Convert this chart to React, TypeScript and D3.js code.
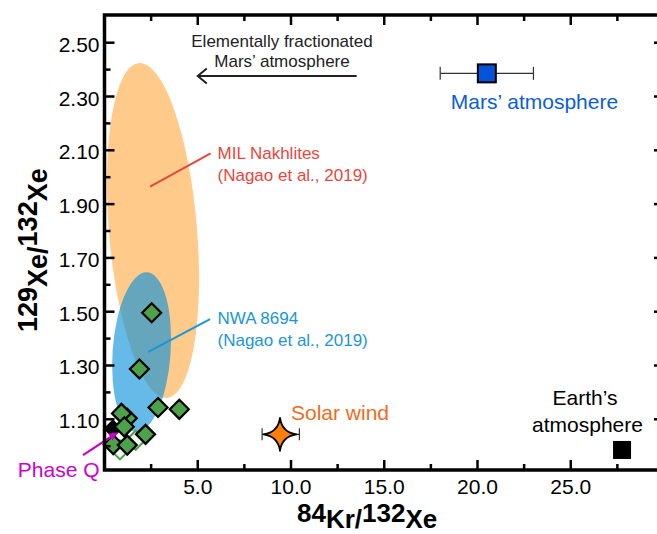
import React from 'react';
import * as d3 from 'd3';

const W = 657;
const H = 534;

// Axis ticks
const xTicksMajor = [5, 10, 15, 20, 25];
const xTickLabels = ['5.0', '10.0', '15.0', '20.0', '25.0'];
const xTicksMinor = [2.5, 7.5, 12.5, 17.5, 22.5, 27.5];
const yTicksMajor = [1.1, 1.3, 1.5, 1.7, 1.9, 2.1, 2.3, 2.5];
const yTickLabels = ['1.10', '1.30', '1.50', '1.70', '1.90', '2.10', '2.30', '2.50'];
const yTicksMinor = [1.0, 1.2, 1.4, 1.6, 1.8, 2.0, 2.2, 2.4];

// Sample data (84Kr/132Xe, 129Xe/132Xe)
const sampleKr = [2.53, 1.87, 2.87, 4.01, 1.22, 0.91, 1.06, 2.2, 0.47, 1.22];
const sampleXe = [1.496, 1.287, 1.144, 1.137, 1.104, 1.122, 1.072, 1.044, 1.006, 1.004];
// Faint / hollow samples
const hollowKr = [1.67, 0.83];
const hollowXe = [1.022, 0.986];
// Phase Q
const phaseQKr = [0.45];
const phaseQXe = [1.065];

// Reservoirs
const marsKr = 20.5;
const marsXe = 2.386;
const marsKrErr = [18.0, 23.0];
const solarKr = 9.41;
const solarXe = 1.044;
const solarKrErr = [8.45, 10.45];
const earthKr = 27.75;
const earthXe = 0.986;

// Ellipses: [cx, cy, rx (Kr units), ry (Xe units), rotation deg]
const milEllipse = [2.6, 1.802, 2.36, 0.625, -4.8];
const nwaEllipse = [1.99, 1.35, 1.555, 0.297, 4];

const FONT = '"Liberation Sans", Arial, Helvetica, sans-serif';

export default function App() {
  const x = d3.scaleLinear().domain([0, 30]).range([104.5, 664]);
  const y = d3.scaleLinear().domain([0.9115, 2.603]).range([470, 15]);
  const x0 = x(0), x1 = x(30), yTop = y(2.603), yBot = y(0.9115);

  const ellipse = (e: number[], fill: string, opacity: number) => {
    const [cx, cy, rx, ry, rot] = e;
    const px = x(cx), py = y(cy);
    const prx = x(cx + rx) - px;
    const pry = py - y(cy + ry);
    return (
      <ellipse cx={0} cy={0} rx={prx} ry={pry} fill={fill} fillOpacity={opacity}
        transform={`translate(${px},${py}) rotate(${rot})`} />
    );
  };

  const diamond = (r: number) => `M0,${-r}L${r},0L0,${r}L${-r},0Z`;
  const star = (r: number) => {
    const k = 0.12 * r;
    return `M0,${-r}Q${k},${-k} ${r},0Q${k},${k} 0,${r}Q${-k},${k} ${-r},0Q${-k},${-k} 0,${-r}Z`;
  };

  const tickW = 2.5;

  // Phase Q arrow
  const pqStart = [x(-1.15), y(0.967)];
  const pqEnd = [x(0.72), y(1.052)];
  const ang = Math.atan2(pqEnd[1] - pqStart[1], pqEnd[0] - pqStart[0]);
  const ah = 9, aw = 4;
  const pqHead = [
    [pqEnd[0], pqEnd[1]],
    [pqEnd[0] - ah * Math.cos(ang) + aw * Math.sin(ang), pqEnd[1] - ah * Math.sin(ang) - aw * Math.cos(ang)],
    [pqEnd[0] - ah * Math.cos(ang) - aw * Math.sin(ang), pqEnd[1] - ah * Math.sin(ang) + aw * Math.cos(ang)],
  ];

  // fractionation arrow
  const fracY = y(2.376);
  const fracX0 = x(5.0), fracX1 = x(13.52);

  return (
    <svg width={W} height={H} style={{ position: 'absolute', left: 0, top: 0, fontFamily: FONT }}>
      <rect x={0} y={0} width={W} height={H} fill="#fff" />
      <defs>
        <clipPath id="plotclip">
          <rect x={x0} y={yTop} width={x1 - x0} height={yBot - yTop} />
        </clipPath>
      </defs>

      <g clipPath="url(#plotclip)">
        {ellipse(milEllipse, '#FFCA8A', 1)}
        {ellipse(nwaEllipse, 'rgb(11,145,219)', 0.63)}
      </g>

      {/* leader lines */}
      <line x1={x(2.445)} y1={y(1.965)} x2={x(5.69)} y2={y(2.089)} stroke="#E8463C" strokeWidth={2} />
      <line x1={x(2.35)} y1={y(1.351)} x2={x(5.66)} y2={y(1.472)} stroke="#1A95DA" strokeWidth={2} />

      {/* Mars atmosphere */}
      <line x1={x(marsKrErr[0])} x2={x(marsKrErr[1])} y1={y(marsXe)} y2={y(marsXe)} stroke="#333" strokeWidth={1.2} />
      {marsKrErr.map((v, i) => (
        <line key={i} x1={x(v)} x2={x(v)} y1={y(marsXe) - 6.5} y2={y(marsXe) + 6.5} stroke="#333" strokeWidth={1.2} />
      ))}
      <rect x={x(marsKr) - 9} y={y(marsXe) - 9} width={18} height={18} fill="#0652D9" stroke="#000" strokeWidth={2} />

      {/* Solar wind */}
      <line x1={x(solarKrErr[0])} x2={x(solarKrErr[1])} y1={y(solarXe)} y2={y(solarXe)} stroke="#333" strokeWidth={1.2} />
      {solarKrErr.map((v, i) => (
        <line key={i} x1={x(v)} x2={x(v)} y1={y(solarXe) - 6} y2={y(solarXe) + 6} stroke="#333" strokeWidth={1.2} />
      ))}
      <path d={star(16.5)} transform={`translate(${x(solarKr)},${y(solarXe)})`} fill="#FF7F0E" stroke="#000" strokeWidth={1.8} strokeLinejoin="round" />

      {/* Earth atmosphere */}
      <rect x={x(earthKr) - 9} y={y(earthXe) - 9} width={18} height={18} fill="#000" />

      {/* Phase Q marker */}
      {phaseQKr.map((v, i) => (
        <path key={i} d={diamond(9.5)} transform={`translate(${x(v)},${y(phaseQXe[i])})`} fill="#000" />
      ))}

      {/* hollow samples */}
      {hollowKr.map((v, i) => (
        <path key={i} d={diamond(9.5)} transform={`translate(${x(v)},${y(hollowXe[i])})`} fill="#f4f4f4" stroke="#4DA14A" strokeWidth={2} />
      ))}

      {/* samples */}
      {sampleKr.map((v, i) => (
        <path key={i} d={diamond(9.5)} transform={`translate(${x(v)},${y(sampleXe[i])})`} fill="#4DA14A" stroke="#000" strokeWidth={2.2} strokeLinejoin="miter" />
      ))}

      {/* Phase Q arrow */}
      <line x1={pqStart[0]} y1={pqStart[1]} x2={pqEnd[0] - 6 * Math.cos(ang)} y2={pqEnd[1] - 6 * Math.sin(ang)} stroke="#CC00CC" strokeWidth={2.2} />
      <polygon points={pqHead.map((p) => p.join(',')).join(' ')} fill="#CC00CC" />

      {/* fractionation arrow */}
      <line x1={fracX1} x2={fracX0} y1={fracY} y2={fracY} stroke="#222" strokeWidth={2} />
      <polyline points={`${fracX0 + 9},${fracY - 7.5} ${fracX0},${fracY} ${fracX0 + 9},${fracY + 7.5}`} fill="none" stroke="#222" strokeWidth={2} />

      {/* frame */}
      <rect x={x0} y={yTop} width={x1 - x0} height={yBot - yTop} fill="none" stroke="#000" strokeWidth={3.5} />

      {/* ticks */}
      {xTicksMajor.map((t) => (
        <g key={'xm' + t}>
          <line x1={x(t)} x2={x(t)} y1={yBot} y2={yBot - 10} stroke="#000" strokeWidth={tickW} />
          <line x1={x(t)} x2={x(t)} y1={yTop} y2={yTop + 10} stroke="#000" strokeWidth={tickW} />
        </g>
      ))}
      {xTicksMinor.map((t) => (
        <g key={'xn' + t}>
          <line x1={x(t)} x2={x(t)} y1={yBot} y2={yBot - 6} stroke="#000" strokeWidth={tickW} />
          <line x1={x(t)} x2={x(t)} y1={yTop} y2={yTop + 6} stroke="#000" strokeWidth={tickW} />
        </g>
      ))}
      {yTicksMajor.map((t) => (
        <g key={'ym' + t}>
          <line x1={x0} x2={x0 + 10} y1={y(t)} y2={y(t)} stroke="#000" strokeWidth={tickW} />
          <line x1={x1} x2={x1 - 10} y1={y(t)} y2={y(t)} stroke="#000" strokeWidth={tickW} />
        </g>
      ))}
      {yTicksMinor.map((t) => (
        <g key={'yn' + t}>
          <line x1={x0} x2={x0 + 6} y1={y(t)} y2={y(t)} stroke="#000" strokeWidth={tickW} />
          <line x1={x1} x2={x1 - 6} y1={y(t)} y2={y(t)} stroke="#000" strokeWidth={tickW} />
        </g>
      ))}

      {/* tick labels */}
      {xTicksMajor.map((t, i) => (
        <text key={'xl' + t} x={x(t)} y={494} textAnchor="middle" fontSize={21} fill="#000">{xTickLabels[i]}</text>
      ))}
      {yTicksMajor.map((t, i) => (
        <text key={'yl' + t} x={99.5} y={y(t) + 9} textAnchor="end" fontSize={21} fill="#000">{yTickLabels[i]}</text>
      ))}

      {/* axis titles */}
      <text x={297} y={522} fontSize={26} fontWeight="bold" fill="#000">
        <tspan>84</tspan><tspan dy={6}>Kr/</tspan><tspan dy={-6}>132</tspan><tspan dy={6}>Xe</tspan>
      </text>
      <text transform="translate(37,332) rotate(-90)" x={0} y={0} fontSize={27} fontWeight="bold" fill="#000">
        <tspan>129</tspan><tspan dy={10}>Xe/</tspan><tspan dy={-10}>132</tspan><tspan dy={10}>Xe</tspan>
      </text>

      {/* annotations */}
      <text x={282} y={46.5} textAnchor="middle" fontSize={17} fill="#222">Elementally fractionated</text>
      <text x={282} y={66.5} textAnchor="middle" fontSize={17} fill="#222">Mars’ atmosphere</text>

      <text x={534.5} y={109.3} textAnchor="middle" fontSize={21} fill="#0B5ED7">Mars’ atmosphere</text>

      <text x={217.5} y={159.3} fontSize={17} fill="#E8463C">MIL Nakhlites</text>
      <text x={217.5} y={180.5} fontSize={17} fill="#E8463C">(Nagao et al., 2019)</text>

      <text x={217.5} y={324.3} fontSize={17} fill="#1A95DA">NWA 8694</text>
      <text x={217.5} y={345.5} fontSize={17} fill="#1A95DA">(Nagao et al., 2019)</text>

      <text x={291} y={420} fontSize={21} fill="#F26B21">Solar wind</text>

      <text x={585} y={405} textAnchor="middle" fontSize={21} fill="#000">Earth’s</text>
      <text x={587.5} y={431.7} textAnchor="middle" fontSize={21} fill="#000">atmosphere</text>

      <text x={99.5} y={477} textAnchor="end" fontSize={21} fill="#CC00CC">Phase Q</text>
    </svg>
  );
}
